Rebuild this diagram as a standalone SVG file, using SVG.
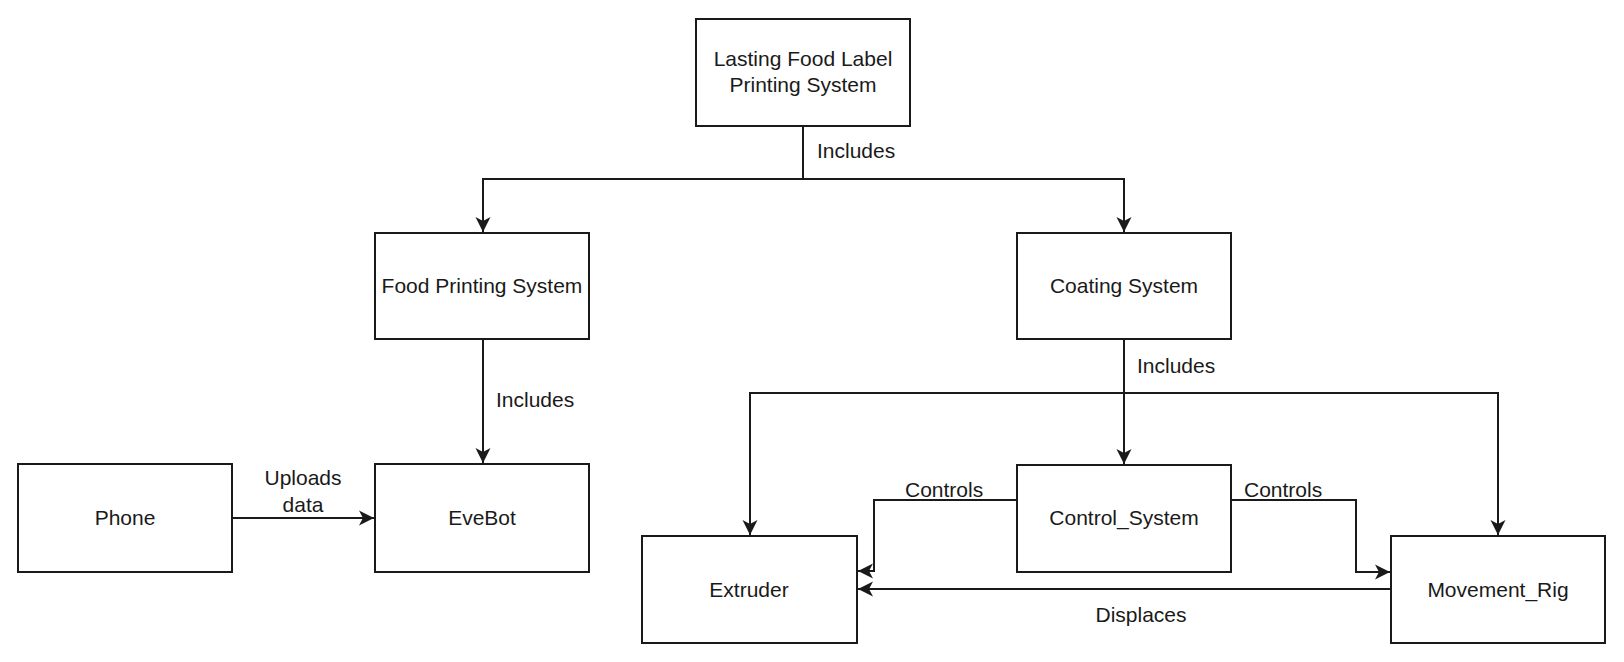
<svg xmlns="http://www.w3.org/2000/svg" width="1624" height="662" viewBox="0 0 1624 662">
<style>
.box{fill:#fff;stroke:#1a1a1a;stroke-width:2}
.t{font-family:"Liberation Sans",Arial,sans-serif;font-size:21px;fill:#1a1a1a;text-anchor:middle}
.l{font-family:"Liberation Sans",Arial,sans-serif;font-size:21px;fill:#1a1a1a}
.e{fill:none;stroke:#1a1a1a;stroke-width:2}
</style>
<defs>
<marker id="arr" markerUnits="userSpaceOnUse" markerWidth="20" markerHeight="20" viewBox="-17 -10 20 20" refX="0" refY="0" orient="auto">
<path d="M0,0 L-15,-7.5 L-11,0 L-15,7.5 Z" fill="#1a1a1a"/>
</marker>
</defs>
<rect width="1624" height="662" fill="#fff"/>
<g id="connectors">
<path class="e" d="M803,126 V179 H483 V232" marker-end="url(#arr)"/>
<path class="e" d="M803,179 H1124 V232" marker-end="url(#arr)"/>
<path class="e" d="M483,339 V463" marker-end="url(#arr)"/>
<path class="e" d="M232,518 H374" marker-end="url(#arr)"/>
<path class="e" d="M1124,339 V464" marker-end="url(#arr)"/>
<path class="e" d="M1124,393 H750 V535" marker-end="url(#arr)"/>
<path class="e" d="M1124,393 H1498 V535" marker-end="url(#arr)"/>
<path class="e" d="M1017,488 V500 H874 V571 H858" marker-end="url(#arr)"/>
<path class="e" d="M1231,500 H1356 V572 H1390" marker-end="url(#arr)"/>
<path class="e" d="M1391,589 H858" marker-end="url(#arr)"/>
<text class="l" x="817" y="158">Includes</text>
<text class="l" x="496" y="407">Includes</text>
<text class="t" x="303" y="485">Uploads</text>
<text class="t" x="303" y="512">data</text>
<text class="l" x="1137" y="373">Includes</text>
<text class="l" x="905" y="497">Controls</text>
<text class="l" x="1244" y="497">Controls</text>
<text class="t" x="1141" y="622">Displaces</text>
</g>
<g id="lasting">
<rect class="box" x="696" y="19" width="214" height="107"/>
<text class="t" x="803" y="66">Lasting Food Label</text>
<text class="t" x="803" y="92">Printing System</text>
</g>
<g id="foodprinting">
<rect class="box" x="375" y="233" width="214" height="106"/>
<text class="t" x="482" y="293">Food Printing System</text>
</g>
<g id="coating">
<rect class="box" x="1017" y="233" width="214" height="106"/>
<text class="t" x="1124" y="293">Coating System</text>
</g>
<g id="phone">
<rect class="box" x="18" y="464" width="214" height="108"/>
<text class="t" x="125" y="525">Phone</text>
</g>
<g id="evebot">
<rect class="box" x="375" y="464" width="214" height="108"/>
<text class="t" x="482" y="525">EveBot</text>
</g>
<g id="control_system">
<rect class="box" x="1017" y="465" width="214" height="107"/>
<text class="t" x="1124" y="525">Control_System</text>
</g>
<g id="extruder">
<rect class="box" x="642" y="536" width="215" height="107"/>
<text class="t" x="749" y="597">Extruder</text>
</g>
<g id="movement_rig">
<rect class="box" x="1391" y="536" width="214" height="107"/>
<text class="t" x="1498" y="597">Movement_Rig</text>
</g>
</svg>
